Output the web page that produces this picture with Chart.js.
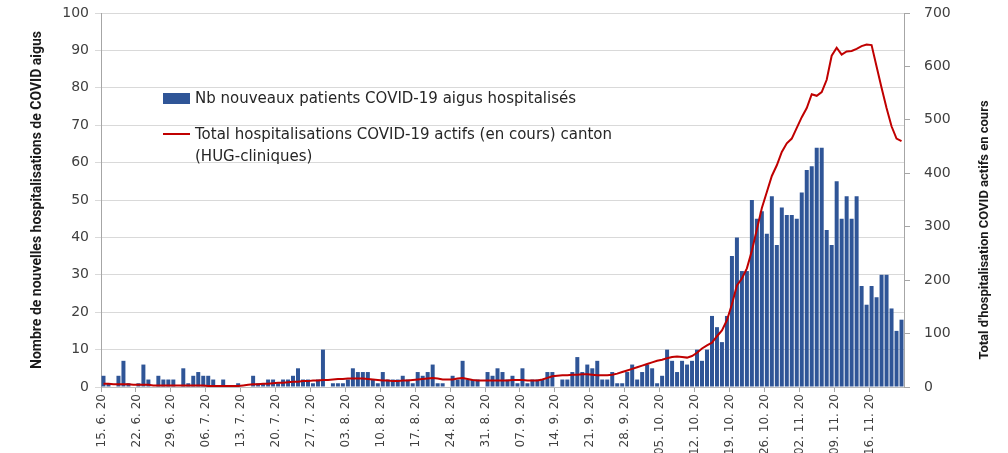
<!DOCTYPE html>
<html>
<head>
<meta charset="utf-8">
<script src="https://cdn.jsdelivr.net/npm/chart.js@4.4.1/dist/chart.umd.min.js"></script>
<style>
  html, body { margin: 0; padding: 0; background: #fff; }
  #wrap { position: relative; width: 1008px; height: 453px; }
  #legend { position: absolute; left: 163px; top: 87px; font-family: 'DejaVu Sans', sans-serif; font-size: 15px; color: #262626; line-height: 22px; }
  .row { position: relative; padding-left: 32px; white-space: nowrap; }
  .box { position: absolute; left: 0; top: 6px; width: 27px; height: 11px; background: #2f5597; }
  .ln { position: absolute; left: 0; top: 10px; width: 27px; height: 2px; background: #c00000; }
</style>
</head>
<body>
<div id="wrap">
  <canvas id="myChart" width="1008" height="453"></canvas>
  <div id="legend">
    <div class="row"><span class="box"></span>Nb nouveaux patients COVID-19 aigus hospitalisés</div>
    <div class="row" style="margin-top:14px"><span class="ln"></span>Total hospitalisations COVID-19 actifs (en cours) canton<br>(HUG-cliniques)</div>
  </div>
</div>
<script>
// one value per day, 15.6.20 -> 22.11.20
const newPatients = [
  3, 1, 0, 3, 7, 1, 0, 1, 6, 2, 0, 3, 2, 2, 2, 0, 5, 1, 3, 4, 3, 3, 2, 0, 2, 0, 0, 1, 0, 0,
  3, 1, 1, 2, 2, 1, 2, 2, 3, 5, 2, 2, 1, 2, 10, 0, 1, 1, 1, 2, 5, 4, 4, 4, 2, 1, 4, 2, 2, 2,
  3, 2, 1, 4, 3, 4, 6, 1, 1, 0, 3, 2, 7, 2, 2, 2, 0, 4, 3, 5, 4, 2, 3, 1, 5, 1, 2, 2, 2, 4,
  4, 0, 2, 2, 4, 8, 4, 6, 5, 7, 2, 2, 4, 1, 1, 4, 6, 2, 4, 6, 5, 1, 3, 10, 7, 4, 7, 6, 7, 10,
  7, 10, 19, 16, 12, 19, 35, 40, 31, 31, 50, 45, 47, 41, 51, 38, 48, 46, 46, 45, 52, 58, 59, 64, 64, 42, 38, 55, 45, 51,
  45, 51, 27, 22, 27, 24, 30, 30, 21, 15, 18
];

const activeTotal = [
  6, 6, 5, 5, 5, 5, 4, 4, 4, 4, 3, 3, 3, 3, 3, 3, 3, 3, 3, 3, 3, 2, 2, 2, 2, 2, 2, 2, 3, 4,
  5, 5, 6, 6, 7, 8, 8, 9, 10, 10, 11, 11, 12, 12, 13, 13, 14, 15, 15, 16, 16, 16, 16, 15, 14, 13, 12, 12, 11, 11,
  12, 12, 13, 14, 15, 16, 17, 16, 14, 14, 14, 16, 17, 15, 13, 12, 12, 12, 12, 12, 12, 12, 13, 13, 13, 12, 12, 12, 14, 17,
  20, 21, 22, 22, 23, 23, 24, 24, 23, 22, 22, 22, 23, 25, 28, 31, 34, 37, 40, 43, 46, 49, 51, 54, 56, 57, 56, 55, 58, 64,
  72, 78, 83, 95, 106, 125, 155, 190, 203, 222, 255, 295, 335, 365, 395, 415, 440, 456, 465, 485, 505, 522, 548, 545, 552, 575, 620, 635, 622, 628,
  629, 633, 638, 641, 640, 600, 560, 522, 488, 465, 460
];

// categories: daily dates "dd. m. yy"
const startDate = new Date(2020, 5, 15);
const categories = [];
for (let i = 0; i < newPatients.length; i++) {
    let d = new Date(startDate.getFullYear(), startDate.getMonth(), startDate.getDate() + i);
    let dd = String(d.getDate()).padStart(2, '0');
    categories.push(dd + '. ' + (d.getMonth() + 1) + '. 20');
}

const leftTitle = 'Nombre de nouvelles hospitalisations de COVID aigus';
const rightTitle = "Total d'hospitalisation COVID actifs en cours";

const tickFont = { family: 'DejaVu Sans', size: 14 };

// y scales: fixed widths, no extra top/bottom room for the labels
function fitY(width) {
    return s => {
        s.width = width;
        s.paddingTop = 0;
        s.paddingBottom = 0;
    };
}

// chart.js writes a right axis title top-to-bottom, the original reads bottom-to-top
const rightTitlePlugin = {
    id: 'rightTitle',
    afterDraw(chart) {
        const c = chart.ctx;
        const area = chart.chartArea;
        c.save();
        c.translate(chart.scales.y1.right - 23, (area.top + area.bottom) / 2 + 30);
        c.rotate(-Math.PI / 2);
        c.font = 'bold 13px Roboto';
        c.fillStyle = '#1a1a1a';
        c.textAlign = 'center';
        c.textBaseline = 'middle';
        c.fillText(rightTitle, 0, 0);
        c.restore();
    }
};

let ctx = document.getElementById('myChart').getContext('2d');
let myChart = new Chart(ctx, {
    data: {
        labels: categories,
        datasets: [{
            type: 'line',
            label: 'Total hospitalisations COVID-19 actifs (en cours) canton (HUG-cliniques)',
            data: activeTotal,
            yAxisID: 'y1',
            borderColor: '#c00000',
            borderWidth: 2,
            pointRadius: 0,
            tension: 0,
            fill: false,
            order: 0
        }, {
            type: 'bar',
            label: 'Nb nouveaux patients COVID-19 aigus hospitalisés',
            data: newPatients,
            yAxisID: 'y',
            backgroundColor: '#2f5597',
            barPercentage: 1,
            categoryPercentage: 0.8,
            order: 1
        }]
    },
    options: {
        responsive: false,
        animation: false,
        layout: { padding: { top: 13, left: 0, right: 0, bottom: 0 } },
        plugins: { legend: { display: false }, tooltip: { enabled: false } },
        scales: {
            x: {
                type: 'category',
                offset: true,
                afterFit: s => { s.height = 66; s.paddingLeft = 0; s.paddingRight = 0; },
                grid: {
                    offset: true,
                    drawOnChartArea: false,
                    drawTicks: true,
                    tickLength: 5,
                    color: c => (c.index % 7 === 0 ? '#a6a6a6' : 'rgba(0,0,0,0)')
                },
                border: { display: true, color: '#bfbfbf' },
                ticks: {
                    autoSkip: false,
                    minRotation: 90,
                    maxRotation: 90,
                    padding: 2,
                    labelOffset: -2,
                    font: { family: 'DejaVu Sans', size: 12 },
                    color: '#404040',
                    callback: (v, i) => (i % 7 === 0 ? categories[i] : '')
                }
            },
            y: {
                position: 'left',
                min: 0,
                max: 100,
                afterFit: fitY(101),
                grid: { color: '#d9d9d9', tickLength: 6 },
                border: { display: true, color: '#a6a6a6' },
                ticks: { stepSize: 10, padding: 6, font: tickFont, color: '#404040' },
                title: {
                    display: true, text: leftTitle, color: '#1a1a1a',
                    font: { family: 'Roboto', size: 14, weight: 'bold' },
                    padding: { top: 29, bottom: 0 }
                }
            },
            y1: {
                position: 'right',
                min: 0,
                max: 700,
                afterFit: fitY(104),
                grid: { drawOnChartArea: false, color: '#a6a6a6', tickLength: 6 },
                border: { display: true, color: '#a6a6a6' },
                ticks: { stepSize: 100, padding: 14, font: tickFont, color: '#404040' }
            }
        }
    },
    plugins: [rightTitlePlugin]
});
</script>
</body>
</html>
